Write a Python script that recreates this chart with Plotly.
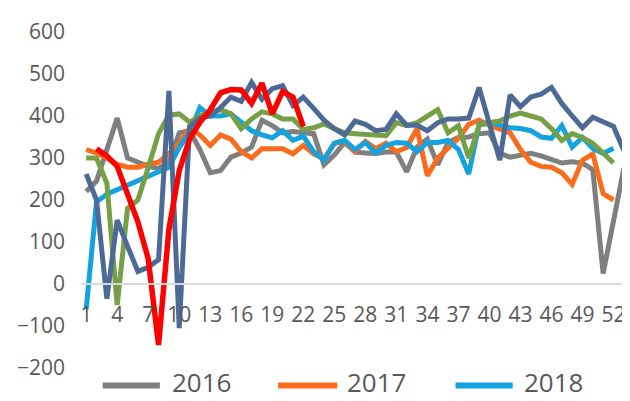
import plotly.graph_objects as go

# Wochen 1..53, Beschriftung jede dritte Woche
weeks = list(range(1, 54))
tick_weeks = list(range(1, 53, 3))

s2016 = [220, 245, 320, 395, 300, 290, 280, 275, 290, 360, 365, 320, 265, 270, 302, 312, 326,
         390, 377, 360, 363, 360, 358, 284, 307, 337, 314, 312, 311, 314, 314, 267, 326, 345,
         284, 337, 349, 350, 358, 360, 311, 302, 307, 311, 305, 295, 288, 291, 288, 272, 25,
         150, 275]
s2017 = [320, 312, 300, 285, 278, 278, 285, 290, 310, 335, 370, 355, 330, 355, 345, 315, 300,
         322, 322, 322, 310, 330, 310, 298, 335, 340, 315, 340, 322, 335, 315, 325, 370, 258,
         300, 325, 347, 380, 390, 378, 370, 360, 320, 290, 280, 278, 265, 237, 295, 310, 215,
         200]
s2018 = [-60, 195, 214, 225, 235, 245, 256, 266, 278, 325, 360, 420, 400, 400, 405, 385, 365,
         355, 348, 365, 342, 352, 315, 295, 335, 342, 320, 337, 312, 330, 337, 335, 315, 337,
         337, 342, 320, 262, 380, 385, 378, 372, 370, 365, 350, 347, 377, 326, 349, 323, 311,
         323]
s2019 = [300, 300, 240, -50, 180, 200, 277, 358, 402, 405, 385, 400, 410, 415, 405, 370, 393,
         410, 405, 393, 393, 368, 372, 381, 370, 360, 358, 356, 353, 353, 384, 377, 384, 398,
         415, 360, 377, 300, 378, 384, 388, 400, 407, 400, 393, 370, 342, 358, 349, 335, 311,
         288]
s2020 = [262, 200, -35, 152, 90, 30, 40, 58, 460, -105, 375, 395, 400, 420, 445, 435, 480,
         440, 465, 472, 425, 445, 418, 390, 370, 355, 388, 380, 365, 368, 405, 378, 378, 365,
         384, 393, 393, 395, 468, 380, 295, 450, 422, 445, 452, 468, 430, 400, 372, 397, 385,
         375, 318]
s2021 = [None, 322, 305, 280, 210, 148, 60, -145, 130, 270, 345, 385, 415, 455, 463, 462, 430,
         478, 405, 458, 445, 375]

series = [
    ("2016", s2016, "#7F7F7F"),
    ("2017", s2017, "#FA6B1C"),
    ("2018", s2018, "#14A3DE"),
    ("2019", s2019, "#77A046"),
    ("2020", s2020, "#4D6A96"),
    ("2021", s2021, "#FF0000"),
]

# Seite hat 8px Body-Rand -> alles um 8px verschieben
OFF = 8
W, H = 630, 401
L, T = 73 - OFF, 23 - OFF
PW, PH = 556, 345
R = W - L - PW
B = H - T - PH
TXT = "#595959"
FONT = "Open Sans"

fig = go.Figure()
for name, vals, col in series:
    fig.add_trace(go.Scatter(
        x=weeks[:len(vals)], y=vals, mode="lines", name=name,
        line=dict(color=col, width=5.5 if name == "2021" else 5),
        showlegend=False, connectgaps=False
    ))


def px2paper(x, y):
    # Pixel im Referenzbild -> Paper-Koordinaten
    return (x - OFF - L) / PW, (T + PH - (y - OFF)) / PH


# Legende unten (nur die ersten drei Eintraege sind sichtbar)
legend_pos = [(95, 153, 163), (273, 333, 341), (453, 511, 520)]
for (name, _, col), (x0, x1, xt) in zip(series[:3], legend_pos):
    a0, yy = px2paper(x0, 386)
    a1, _ = px2paper(x1, 386)
    at, yt = px2paper(xt, 382)
    fig.add_shape(type="line", xref="paper", yref="paper", x0=a0, x1=a1, y0=yy, y1=yy,
                  line=dict(color=col, width=6))
    fig.add_annotation(xref="paper", yref="paper", x=at, y=yt, text=name, showarrow=False,
                       xanchor="left", yanchor="middle",
                       font=dict(family=FONT, size=26, color=TXT))

fig.update_layout(
    width=W, height=H,
    margin=dict(l=L, r=R, t=T, b=B),
    paper_bgcolor="white", plot_bgcolor="white",
    font=dict(family=FONT, color=TXT),
    xaxis=dict(
        range=[0.5, 53.5], tickmode="array", tickvals=tick_weeks,
        ticktext=[str(w) for w in tick_weeks], tickangle=0,
        anchor="free", position=0.25, showline=True, linecolor="#D9D9D9", linewidth=2,
        showgrid=False, zeroline=False, ticks="", ticklabelstandoff=12,
        tickfont=dict(family=FONT, size=21, color=TXT),
    ),
    yaxis=dict(
        range=[-200, 600], dtick=100, showgrid=False, zeroline=False, showline=False,
        ticks="", ticklabelstandoff=15,
        tickfont=dict(family=FONT, size=21, color=TXT),
    ),
)

fig.write_html("out.html")
